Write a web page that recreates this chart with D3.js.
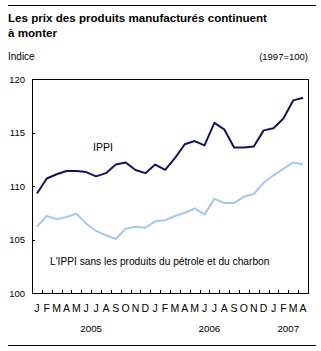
<!DOCTYPE html>
<html>
<head>
<meta charset="utf-8">
<script src="https://cdn.jsdelivr.net/npm/d3@7"></script>
<style>
  body { margin: 0; background: #fff; }
  text { font-family: "Liberation Sans", Arial, sans-serif; }
</style>
</head>
<body>
<script>
// #region DATA
var months = ["J","F","M","A","M","J","J","A","S","O","N","D",
              "J","F","M","A","M","J","J","A","S","O","N","D",
              "J","F","M","A"];
var years = [{label: "2005", first: 0, last: 11},
             {label: "2006", first: 12, last: 23},
             {label: "2007", first: 24, last: 27}];
var ippi = [109.3, 110.7, 111.1, 111.4, 111.4, 111.3, 110.9, 111.2, 112.0, 112.2, 111.5, 111.2,
            112.0, 111.5, 112.6, 113.9, 114.2, 113.8, 115.9, 115.3, 113.6, 113.6, 113.7, 115.2,
            115.4, 116.3, 118.0, 118.25];
var ippiSans = [106.2, 107.2, 106.9, 107.1, 107.4, 106.5, 105.8, 105.4, 105.05, 106.0, 106.2, 106.1,
                106.7, 106.8, 107.2, 107.5, 107.9, 107.35, 108.8, 108.4, 108.4, 109.0, 109.25, 110.3,
                111.0, 111.6, 112.2, 112.0];
var yTicks = [100, 105, 110, 115, 120];
// #endregion

// #region SETUP
var svg = d3.select("body")
    .append("svg")
    .attr("width", 321)
    .attr("height", 351);

var plot = {left: 32, right: 308, top: 79, bottom: 293};

// rules top and bottom
svg.append("line")
    .attr("x1", 8).attr("x2", 316).attr("y1", 5.5).attr("y2", 5.5)
    .attr("stroke", "#000").attr("stroke-width", 1);
svg.append("line")
    .attr("x1", 8).attr("x2", 316).attr("y1", 345.5).attr("y2", 345.5)
    .attr("stroke", "#000").attr("stroke-width", 1);

// title
svg.append("text")
    .attr("x", 8).attr("y", 22)
    .style("font-size", "11.6px").style("font-weight", "bold")
    .text("Les prix des produits manufacturés continuent");
svg.append("text")
    .attr("x", 8).attr("y", 37)
    .style("font-size", "11.6px").style("font-weight", "bold")
    .text("à monter");

svg.append("text")
    .attr("x", 8).attr("y", 60)
    .style("font-size", "10px")
    .text("Indice");
svg.append("text")
    .attr("x", 308).attr("y", 60)
    .attr("text-anchor", "end")
    .style("font-size", "9.5px")
    .text("(1997=100)");
// #endregion

// #region SCALES
var x = d3.scaleBand()
    .domain(d3.range(months.length))
    .range([plot.left, plot.right]);

var y = d3.scaleLinear()
    .domain([100, 120])
    .range([plot.bottom, plot.top]);

var xc = i => x(i) + x.bandwidth() / 2;
// #endregion

// #region AXES
svg.append("rect")
    .attr("x", plot.left + 0.5).attr("y", plot.top + 0.5)
    .attr("width", plot.right - plot.left).attr("height", plot.bottom - plot.top)
    .attr("fill", "none").attr("stroke", "#000").attr("stroke-width", 1);

// y ticks (inside)
svg.append("g")
    .selectAll("line")
    .data(yTicks)
    .enter()
    .append("line")
        .attr("x1", plot.left).attr("x2", plot.left + 3)
        .attr("y1", d => Math.round(y(d)) + 0.5).attr("y2", d => Math.round(y(d)) + 0.5)
        .attr("stroke", "#000");

svg.append("g")
    .selectAll("text")
    .data(yTicks)
    .enter()
    .append("text")
        .attr("x", 25)
        .attr("y", d => y(d) + 3.5)
        .attr("text-anchor", "end")
        .style("font-size", "9.5px")
        .text(d => d);

// x ticks at month boundaries (inside, pointing up)
svg.append("g")
    .selectAll("line")
    .data(d3.range(1, months.length))
    .enter()
    .append("line")
        .attr("x1", d => Math.round(x(d)) + 0.5).attr("x2", d => Math.round(x(d)) + 0.5)
        .attr("y1", plot.bottom).attr("y2", plot.bottom - 3)
        .attr("stroke", "#000");

svg.append("g")
    .selectAll("text")
    .data(months)
    .enter()
    .append("text")
        .attr("x", (d, i) => xc(i))
        .attr("y", 312)
        .attr("text-anchor", "middle")
        .style("font-size", "10.5px")
        .text(d => d);

svg.append("g")
    .selectAll("text")
    .data(years)
    .enter()
    .append("text")
        .attr("x", d => (xc(d.first) + xc(d.last)) / 2)
        .attr("y", 332)
        .attr("text-anchor", "middle")
        .style("font-size", "9.8px")
        .text(d => d.label);
// #endregion

// #region LINES
var line = d3.line()
    .x((d, i) => xc(i))
    .y(d => y(d));

svg.append("path")
    .datum(ippiSans)
    .attr("d", line)
    .attr("fill", "none")
    .attr("stroke", "#a6c8ee")
    .attr("stroke-width", 2)
    .attr("stroke-linejoin", "round");

svg.append("path")
    .datum(ippi)
    .attr("d", line)
    .attr("fill", "none")
    .attr("stroke", "#14145e")
    .attr("stroke-width", 2)
    .attr("stroke-linejoin", "round");

// series labels
svg.append("text")
    .attr("x", 103).attr("y", 151)
    .attr("text-anchor", "middle")
    .style("font-size", "10.5px")
    .text("IPPI");
svg.append("text")
    .attr("x", 50).attr("y", 265)
    .style("font-size", "10.2px")
    .text("L'IPPI sans les produits du pétrole et du charbon");
// #endregion
</script>
</body>
</html>
